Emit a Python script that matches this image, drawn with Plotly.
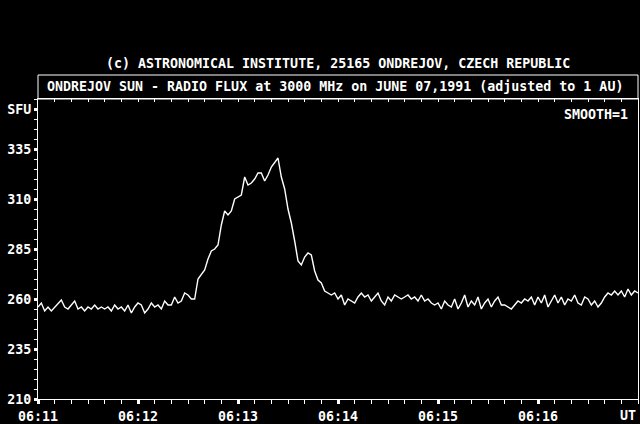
import plotly.graph_objects as go

# time in seconds after 06:11:00 (2-second sampling)
seconds = list(range(0, 361, 2))
flux = [
    256, 258, 254, 256, 254, 256, 258, 259.5, 256, 255,
    257, 259, 255, 256, 254, 256, 255, 257, 255, 256,
    255, 256, 254, 257, 255, 256, 254, 257, 253, 256,
    258, 257, 253, 255, 258, 256, 257, 255, 259, 257,
    257, 261, 258, 259, 263, 262, 260, 260, 270, 272,
    274.5, 280, 284, 285, 287, 297, 304, 302, 304, 310,
    311, 312, 321, 317, 318, 320, 323, 323, 319, 322,
    326, 328, 330.5, 321, 315, 305, 298, 289, 279, 277,
    281, 283, 282, 274, 269.5, 268, 264, 263, 262, 263,
    260, 262, 257, 260, 259, 258, 261, 263, 261, 262,
    259, 261, 263, 259, 257, 261, 259, 262, 261, 260,
    261, 262, 260, 261, 259, 262, 259, 260, 258, 257,
    258, 255, 259, 257, 256, 260, 255, 258, 262, 256,
    259, 257, 261, 255, 258, 260, 256, 259, 261, 257,
    257, 256, 255, 257, 259, 258, 260, 259, 261, 257,
    261, 258, 262, 256, 259, 262, 258, 261, 257, 260,
    259, 262, 258, 257, 261, 260, 257, 259, 256, 258,
    261, 263, 262, 264, 262, 264, 261, 265, 262, 264, 263,
]

x_tick_vals = [0, 60, 120, 180, 240, 300]
x_tick_text = ["06:11", "06:12", "06:13", "06:14", "06:15", "06:16"]
y_tick_vals = [210, 235, 260, 285, 310, 335, 355]
y_tick_text = ["210", "235", "260", "285", "310", "335", "SFU"]

FONT = "DejaVu Sans Mono"
FS = 13.3
WHITE = "#ffffff"


def bold(items):
    return ["<b>%s</b>" % s for s in items]


fig = go.Figure()
fig.add_trace(go.Scatter(x=seconds, y=flux, mode="lines",
                         line=dict(color=WHITE, width=1.4),
                         hoverinfo="skip", showlegend=False))
# invisible trace for top axis
fig.add_trace(go.Scatter(x=[0, 360], y=[210, 210], xaxis="x2", mode="lines",
                         line=dict(color="rgba(0,0,0,0)"), showlegend=False,
                         hoverinfo="skip"))

fig.update_layout(
    width=640, height=424,
    paper_bgcolor="black", plot_bgcolor="black",
    margin=dict(l=38, r=2, t=99, b=25),
    font=dict(family=FONT, color=WHITE, size=FS),
    xaxis=dict(range=[0, 360], showgrid=False, zeroline=False,
               showline=True, linecolor=WHITE, linewidth=1,
               automargin=False,
               tickvals=x_tick_vals, ticktext=bold(x_tick_text),
               ticks="outside", ticklen=4, tickwidth=3, tickcolor=WHITE,
               minor=dict(dtick=10, tick0=0, ticks="outside", ticklen=4,
                          tickwidth=1, tickcolor=WHITE),
               tickfont=dict(family=FONT, size=FS, color=WHITE),
               ticklabelstandoff=1),
    xaxis2=dict(range=[0, 360], overlaying="x", side="top", showgrid=False,
                zeroline=False, showline=True, linecolor=WHITE, linewidth=1,
                automargin=False,
                showticklabels=False, tickvals=x_tick_vals,
                ticks="inside", ticklen=3, tickwidth=1, tickcolor=WHITE,
                minor=dict(dtick=10, tick0=0, ticks="inside", ticklen=3,
                           tickwidth=1, tickcolor=WHITE)),
    yaxis=dict(range=[210, 360], showgrid=False, zeroline=False,
               showline=True, linecolor=WHITE, linewidth=1, mirror=True,
               automargin=False,
               tickvals=y_tick_vals, ticktext=bold(y_tick_text),
               ticks="outside", ticklen=3, tickwidth=3, tickcolor=WHITE,
               minor=dict(dtick=5, tick0=210, ticks="outside", ticklen=3,
                          tickwidth=1, tickcolor=WHITE),
               tickfont=dict(family=FONT, size=FS, color=WHITE)),
    shapes=[dict(type="rect", xref="paper", yref="paper",
                 x0=0, x1=1, y0=1, y1=1.08,
                 line=dict(color=WHITE, width=1))],
    annotations=[
        dict(text="<b>(c) ASTRONOMICAL INSTITUTE, 25165 ONDREJOV, CZECH REPUBLIC</b>",
             xref="paper", yref="paper", x=0.5, y=1.117, showarrow=False,
             xanchor="center", yanchor="middle",
             font=dict(family=FONT, size=FS, color=WHITE)),
        dict(text="<b>ONDREJOV SUN - RADIO FLUX at 3000 MHz on JUNE 07,1991 (adjusted to 1 AU)</b>",
             xref="paper", yref="paper", x=0.495, y=1.04, showarrow=False,
             xanchor="center", yanchor="middle",
             font=dict(family=FONT, size=FS, color=WHITE)),
        dict(text="<b>SMOOTH=1</b>", xref="paper", yref="paper",
             x=0.987, y=0.95, showarrow=False, xanchor="right",
             yanchor="middle", font=dict(family=FONT, size=FS, color=WHITE)),
        dict(text="<b>UT</b>", xref="paper", yref="paper",
             x=1.0, y=-0.055, showarrow=False, xanchor="right",
             yanchor="middle", font=dict(family=FONT, size=FS, color=WHITE)),
    ],
)

fig.write_html(
    "out.html",
    config={"displayModeBar": False},
    post_script="document.body.style.margin='0';"
                "document.body.style.background='black';",
)
